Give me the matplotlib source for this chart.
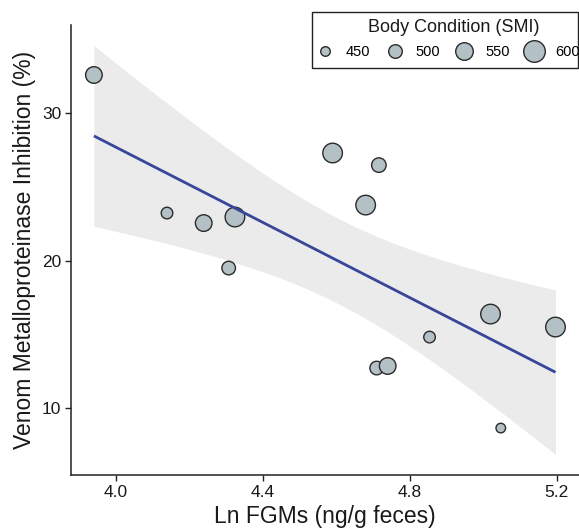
import numpy as np
import matplotlib
matplotlib.use("Agg")
import matplotlib.pyplot as plt
from matplotlib.lines import Line2D
from matplotlib.patches import Rectangle

plt.rcParams['font.family'] = ['Liberation Sans', 'DejaVu Sans']

# Data
ln_fgm = [3.940, 4.139, 4.239, 4.324, 4.307, 4.590, 4.716, 4.680, 4.710, 4.740, 4.854, 5.020, 5.197, 5.048]
inhibition = [32.58, 23.22, 22.54, 22.95, 19.49, 27.29, 26.47, 23.76, 12.71, 12.85, 14.81, 16.37, 15.49, 8.64]
smi = [538, 475, 538, 575, 500, 575, 512, 575, 500, 538, 475, 575, 575, 450]
legend_sizes = [450, 500, 550, 600]
xticks = [4.0, 4.4, 4.8, 5.2]
yticks = [10, 20, 30]

W, H = 579, 530
fig = plt.figure(figsize=(W / 100, H / 100), dpi=100)
ax = fig.add_axes([71 / W, 1 - 475 / H, 508 / W, 450 / H])

px2pt = 0.72


def diam_px(v):
    return 10 + (np.asarray(v, float) - 450) * 12 / 150


x = np.array(ln_fgm)
y = np.array(inhibition)

# OLS fit with 95% CI
n = len(x)
xm, ym = x.mean(), y.mean()
sxx = ((x - xm) ** 2).sum()
sxy = ((x - xm) * (y - ym)).sum()
b = sxy / sxx
a = ym - b * xm
resid = y - (a + b * x)
s = np.sqrt((resid ** 2).sum() / (n - 2))
tq = 2.1788  # t(0.975, df=12)
xs = np.linspace(x.min(), x.max(), 100)
ys = a + b * xs
se = s * np.sqrt(1 / n + (xs - xm) ** 2 / sxx)

ax.fill_between(xs, ys - tq * se, ys + tq * se, color='#EBEBEB', lw=0, zorder=1)

fill = '#B3C0C5'
edge = '#2b2b2b'
sz = (diam_px(smi) * px2pt - 0.3) ** 2
ax.scatter(x, y, s=sz, c=fill, edgecolors=edge, linewidths=1.0, zorder=3)
ax.plot(xs, ys, color='#36469A', lw=2.0, zorder=4, solid_capstyle='butt')

ax.set_xlim(3.8776, 5.261)
ax.set_ylim(5.458, 35.97)
ax.set_xticks(xticks)
ax.set_xticklabels([f"{t:.1f}" for t in xticks])
ax.set_yticks(yticks)
for sp in ['top', 'right']:
    ax.spines[sp].set_visible(False)
for sp in ['left', 'bottom']:
    ax.spines[sp].set_linewidth(1.1)
    ax.spines[sp].set_color('#222222')
ax.tick_params(axis='both', length=4, width=1.0, color='#222222', labelsize=12.5,
               labelcolor='#1a1a1a', pad=3)
ax.set_xlabel('Ln FGMs (ng/g feces)', fontsize=16.5, color='#1a1a1a', labelpad=4)
ax.set_ylabel('Venom Metalloproteinase Inhibition (%)', fontsize=16.5, color='#1a1a1a', labelpad=4)

# Legend (box is cut by the right image edge, as in the reference)
fs = 10.5
h_em = 1.4
h_px = h_em * fs * 100 / 72
fig.add_artist(Rectangle((312 / W, 1 - 68 / H), 266 / W, 56 / H, transform=fig.transFigure,
                         fill=True, facecolor='white', edgecolor='#222222', lw=1.0, zorder=5))
fig.text(454 / W, 1 - 27 / H, 'Body Condition (SMI)', ha='center', va='center',
         fontsize=13, color='#1a1a1a', zorder=6)
handles = [Line2D([], [], ls='none', marker='o', markersize=diam_px(v) * px2pt - 0.3,
                  markerfacecolor=fill, markeredgecolor=edge, markeredgewidth=1.0)
           for v in legend_sizes]
leg = fig.legend(handles, [str(v) for v in legend_sizes], ncol=4, loc='center left',
                 bbox_to_anchor=((325 - h_px / 2) / W, 1 - 52 / H), bbox_transform=fig.transFigure,
                 fontsize=fs, frameon=False,
                 handletextpad=0.74, columnspacing=0.95, handlelength=h_em,
                 borderpad=0, borderaxespad=0)
leg.set_zorder(7)

fig.savefig('out.png', dpi=100)
